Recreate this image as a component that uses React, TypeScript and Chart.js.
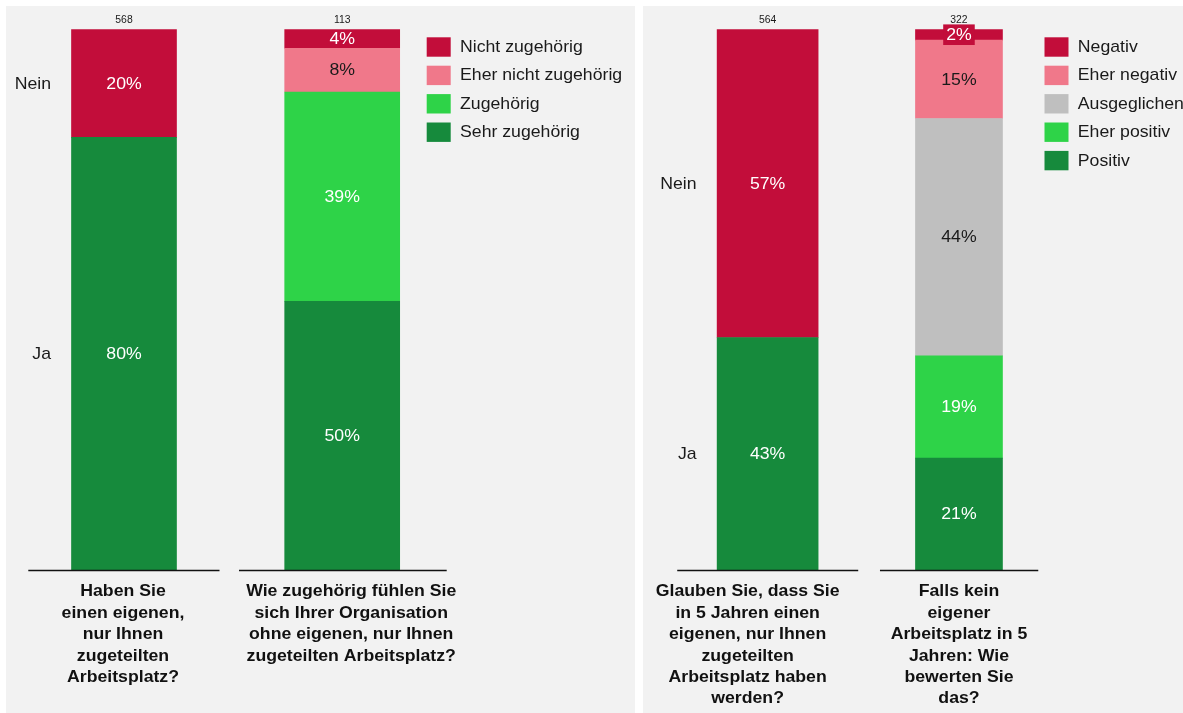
import React, { useEffect, useRef } from "react";
import { Chart, registerables } from "chart.js";

Chart.register(...registerables);

const FONT = '"Liberation Sans", Arial, Helvetica, sans-serif';
const STRETCH = 1.04;
const TEXT_DARK = "#1a1a1a";
const PANEL_BG = "#F2F2F2";

const RED = "#C20D3A";
const PINK = "#F0788A";
const LIGHT_GREEN = "#2ED348";
const DARK_GREEN = "#168A3C";
const GRAY = "#BFBFBF";

// ---------- Panel 1 ----------
const q1Question = ["Haben Sie", "einen eigenen,", "nur Ihnen", "zugeteilten", "Arbeitsplatz?"];
const q1Count = 568;
const q1Series = ["Ja", "Nein"];
const q1Values = [80, 20];
const q1Colors = [DARK_GREEN, RED];

const q2Question = [
  "Wie zugehörig fühlen Sie",
  "sich Ihrer Organisation",
  "ohne eigenen, nur Ihnen",
  "zugeteilten Arbeitsplatz?",
];
const q2Count = 113;
const q2Series = ["Sehr zugehörig", "Zugehörig", "Eher nicht zugehörig", "Nicht zugehörig"];
const q2Values = [49.7, 38.7, 8.1, 3.5];
const q2Colors = [DARK_GREEN, LIGHT_GREEN, PINK, RED];

// ---------- Panel 2 ----------
const q3Question = [
  "Glauben Sie, dass Sie",
  "in 5 Jahren einen",
  "eigenen, nur Ihnen",
  "zugeteilten",
  "Arbeitsplatz haben",
  "werden?",
];
const q3Count = 564;
const q3Series = ["Ja", "Nein"];
const q3Values = [43, 57];
const q3Colors = [DARK_GREEN, RED];

const q4Question = ["Falls kein", "eigener", "Arbeitsplatz in 5", "Jahren: Wie", "bewerten Sie", "das?"];
const q4Count = 322;
const q4Series = ["Positiv", "Eher positiv", "Ausgeglichen", "Eher negativ", "Negativ"];
const q4Values = [20.7, 18.9, 43.9, 14.5, 2.0];
const q4Colors = [DARK_GREEN, LIGHT_GREEN, GRAY, PINK, RED];

const darkTextOn = [PINK, GRAY];

type Group = {
  question: string[];
  count: number;
  series: string[];
  values: number[];
  colors: string[];
  thickness: number;
  side: boolean;
  axis: [number, number];
  labelShift: number;
};

type Panel = {
  rect: { x: number; y: number; w: number; h: number };
  padding: { left: number; right: number; top: number; bottom: number };
  groups: Group[];
  legendGroup: number;
  legendPos: { x: number; y: number };
};

const panels: Panel[] = [
  {
    rect: { x: 6, y: 6, w: 629, h: 707 },
    padding: { left: 8.9, right: 183.7, top: 23.3, bottom: 143 },
    groups: [
      {
        question: q1Question, count: q1Count, series: q1Series, values: q1Values, colors: q1Colors,
        thickness: 105, side: true, axis: [-95.7, 95.5], labelShift: -1,
      },
      {
        question: q2Question, count: q2Count, series: q2Series, values: q2Values, colors: q2Colors,
        thickness: 115, side: false, axis: [-103.2, 104.5], labelShift: 9,
      },
    ],
    legendGroup: 1,
    legendPos: { x: 420.7, y: 31.3 },
  },
  {
    rect: { x: 643, y: 6, w: 540, h: 707 },
    padding: { left: 28.95, right: 128.35, top: 23.3, bottom: 143 },
    groups: [
      {
        question: q3Question, count: q3Count, series: q3Series, values: q3Values, colors: q3Colors,
        thickness: 101, side: true, axis: [-90.4, 90.6], labelShift: -20,
      },
      {
        question: q4Question, count: q4Count, series: q4Series, values: q4Values, colors: q4Colors,
        thickness: 87, side: false, axis: [-79, 79.3], labelShift: 0,
      },
    ],
    legendGroup: 1,
    legendPos: { x: 401.5, y: 31.3 },
  },
];

function drawText(
  ctx: CanvasRenderingContext2D,
  s: string,
  x: number,
  y: number,
  align: CanvasTextAlign,
  font: string,
  color: string
) {
  ctx.save();
  ctx.font = font;
  ctx.fillStyle = color;
  ctx.textAlign = align;
  ctx.textBaseline = "middle";
  ctx.translate(x, y);
  ctx.scale(STRETCH, 1);
  ctx.fillText(s, 0, 0);
  ctx.restore();
}

function makePlugin(panel: Panel) {
  return {
    id: "annotate",
    afterDatasetsDraw(chart: any) {
      const ctx: CanvasRenderingContext2D = chart.ctx;
      const area = chart.chartArea;
      const datasets = chart.data.datasets as any[];

      panel.groups.forEach((g, gi) => {
        let cx = chart.scales.x.getPixelForValue(gi);
        let topY = Infinity;
        datasets.forEach((ds, di) => {
          if (ds.group !== gi) return;
          const el = chart.getDatasetMeta(di).data[gi];
          if (!el) return;
          const p = el.getProps(["x", "y", "base", "width"], true);
          cx = p.x;
          topY = Math.min(topY, p.y, p.base);
          const mid = (p.y + p.base) / 2;
          const h = Math.abs(p.base - p.y);
          const v = ds.data[gi] as number;
          const label = `${Math.round(v)}%`;
          const font = `17px ${FONT}`;
          if (h < 15) {
            ctx.save();
            ctx.font = font;
            const tw = ctx.measureText(label).width * STRETCH + 6;
            ctx.fillStyle = ds.backgroundColor;
            ctx.fillRect(p.x - tw / 2, mid - 10.3, tw, 20.6);
            ctx.restore();
          }
          const tc = darkTextOn.includes(ds.backgroundColor) ? TEXT_DARK : "#ffffff";
          drawText(ctx, label, p.x, mid + 0.5, "center", font, tc);
          if (g.side) {
            drawText(ctx, ds.label, p.x - p.width / 2 - 20.5, mid + 0.5, "right", `17px ${FONT}`, TEXT_DARK);
          }
        });

        // count above bar
        drawText(ctx, String(g.count), cx, topY - 9.5, "center", `10px ${FONT}`, TEXT_DARK);

        // axis segment
        ctx.save();
        ctx.strokeStyle = "#111111";
        ctx.lineWidth = 1.3;
        ctx.beginPath();
        ctx.moveTo(cx + g.axis[0], area.bottom + 0.5);
        ctx.lineTo(cx + g.axis[1], area.bottom + 0.5);
        ctx.stroke();
        ctx.restore();

        // question text
        g.question.forEach((line, li) => {
          drawText(ctx, line, cx + g.labelShift, area.bottom + 21.7 + li * 21.4, "center", `bold 17px ${FONT}`, "#111111");
        });
      });

      // legend
      const legendItems = datasets.filter((d) => d.group === panel.legendGroup).slice().reverse();
      legendItems.forEach((d, i) => {
        const y = panel.legendPos.y + i * 28.4;
        ctx.save();
        ctx.fillStyle = d.backgroundColor;
        ctx.fillRect(panel.legendPos.x, y, 24, 19.4);
        ctx.restore();
        drawText(ctx, d.label, panel.legendPos.x + 33.3, y + 10, "left", `17px ${FONT}`, TEXT_DARK);
      });
    },
  };
}

function PanelChart({ panel }: { panel: Panel }) {
  const ref = useRef<HTMLCanvasElement | null>(null);
  useEffect(() => {
    if (!ref.current) return;
    const labels = panel.groups.map((g) => g.question.join(" "));
    const datasets: any[] = [];
    panel.groups.forEach((g, gi) => {
      g.series.forEach((name, si) => {
        datasets.push({
          label: name,
          group: gi,
          data: labels.map((_, k) => (k === gi ? g.values[si] : null)),
          backgroundColor: g.colors[si],
          borderWidth: 0,
          barThickness: g.thickness,
          stack: "all",
        });
      });
    });
    const chart = new Chart(ref.current, {
      type: "bar",
      data: { labels, datasets },
      options: {
        responsive: false,
        animation: false,
        devicePixelRatio: 1,
        layout: { padding: panel.padding },
        plugins: { legend: { display: false }, tooltip: { enabled: false } },
        scales: {
          x: { stacked: true, display: false },
          y: { stacked: true, display: false, min: 0, max: 100 },
        },
      },
      plugins: [makePlugin(panel)],
    } as any);
    return () => chart.destroy();
  }, [panel]);
  const r = panel.rect;
  return (
    <canvas
      ref={ref}
      width={r.w}
      height={r.h}
      style={{ position: "absolute", left: r.x, top: r.y, width: r.w, height: r.h, background: PANEL_BG }}
    />
  );
}

export default function App() {
  return (
    <div style={{ position: "absolute", left: 0, top: 0, width: 1183, height: 713, background: "#ffffff", overflow: "hidden" }}>
      {panels.map((p, i) => (
        <PanelChart key={i} panel={p} />
      ))}
    </div>
  );
}
